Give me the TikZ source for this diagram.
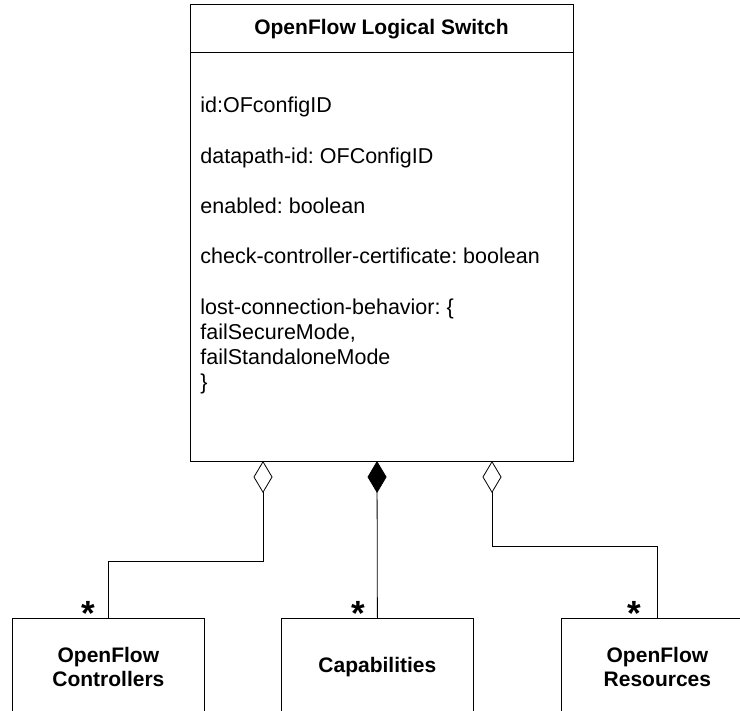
\documentclass[tikz,border=0pt]{standalone}
\usepackage{fontspec}
\setmainfont{Liberation Sans}
\usetikzlibrary{arrows.meta}
\frenchspacing
\begin{document}
\begin{tikzpicture}[x=1pt,y=-1pt,
  line width=0.8pt,
  frame/.style={draw, inner sep=0pt, anchor=north west},
  cls/.style={draw, inner sep=0pt, anchor=north west, minimum width=192pt, minimum height=98pt,
    align=center, font=\fontsize{21}{24}\selectfont\bfseries},
  attr/.style={anchor=base west, inner sep=0pt, font=\fontsize{21.5}{25}\selectfont},
  ttl/.style={anchor=base, inner sep=0pt, font=\fontsize{21}{25}\selectfont\bfseries},
  mult/.style={anchor=base, inner sep=0pt, font=\fontsize{35}{35}\selectfont\bfseries},
  agg/.style={{Diamond[fill=white,length=32pt,width=19pt,line width=0.8pt]}-},
  comp/.style={{Diamond[fill=black,length=32pt,width=19pt,line width=0.8pt]}-}]
\useasboundingbox (0,0) rectangle (740,711);
\clip (0,0) rectangle (740,711);

% main class box
\node[frame, minimum width=383pt, minimum height=457pt] (main) at (190,4) {};
\coordinate (sep) at (0,52);
\draw (sep -| main.west) -- (sep -| main.east);
\node[ttl] (title) at (381.5,35) {OpenFlow Logical Switch};

\node[attr] (a1) at (200,113) {id:OFconfigID};
\node[attr] (a2) at (200,164) {datapath-id: OFConfigID};
\node[attr] (a3) at (200,214) {enabled: boolean};
\node[attr] (a4) at (200,264) {check-controller-certificate: boolean};
\node[attr] (a5) at (200,315) {lost-connection-behavior: \{};
\node[attr] (a6) at (200,340) {failSecureMode,};
\node[attr] (a7) at (200,365) {failStandaloneMode};
\node[attr] (a8) at (200,390) {\}};

% part classes
\node[cls] (ctrl) at (12,618) {OpenFlow\\Controllers};
\node[cls] (cap) at (281,618) {Capabilities};
\node[cls] (res) at (561,618) {OpenFlow\\Resources};

% connectors
\coordinate (p1) at (263,461);
\coordinate (p2) at (377,461);
\coordinate (p3) at (492,461);
\draw[agg] (p1) -- ++(0,100) -| (ctrl.north);
\draw[comp] (p2) -- (cap.north);
\draw[agg] (p3) -- ++(0,85) -| (res.north);

% multiplicities
\node[mult] (m1) at ([xshift=-20pt]ctrl.north) [yshift=-7pt] {*};
\node[mult] (m2) at ([xshift=-19pt]cap.north) [yshift=-7pt] {*};
\node[mult] (m3) at ([xshift=-23pt]res.north) [yshift=-7pt] {*};
\end{tikzpicture}
\end{document}
